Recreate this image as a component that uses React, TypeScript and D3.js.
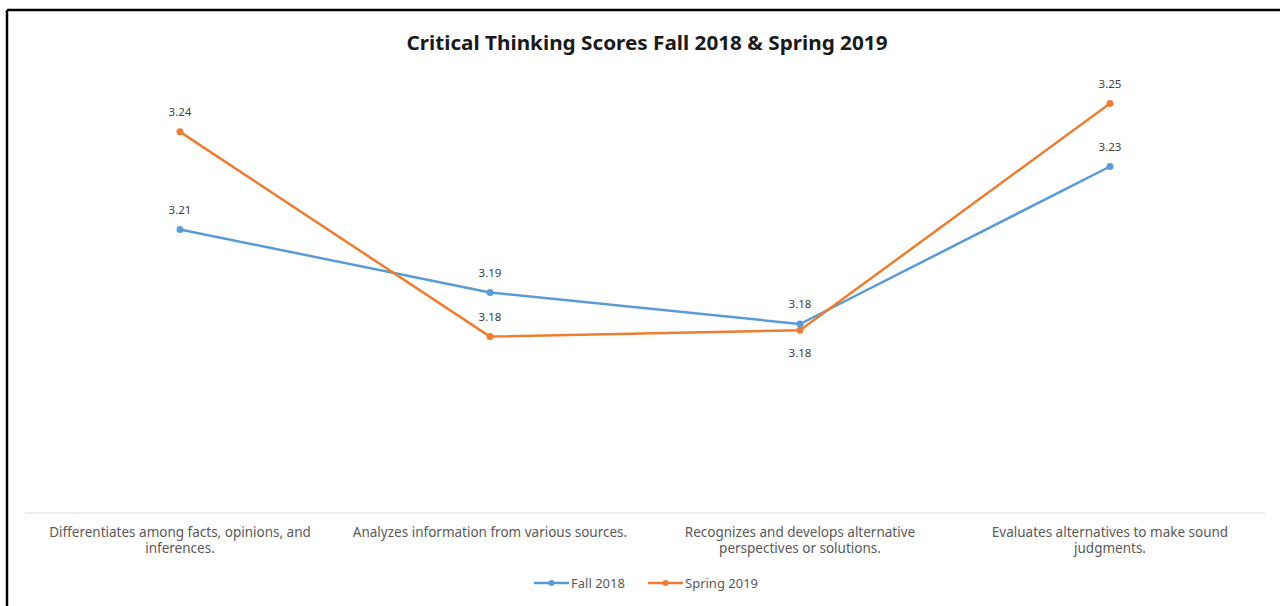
import React from "react";
import * as d3 from "d3";

const categories = [
  ["Differentiates among facts, opinions, and", "inferences."],
  ["Analyzes information from various sources."],
  ["Recognizes and develops alternative", "perspectives or solutions."],
  ["Evaluates alternatives to make sound", "judgments."],
];
const fall2018 = [3.21, 3.19, 3.18, 3.23];
const spring2019 = [3.241, 3.176, 3.178, 3.25];
const seriesNames = ["Fall 2018", "Spring 2019"];
const labelPos = [
  ["above", "above", "above", "above"],
  ["above", "above", "below", "above"],
];

const W = 1280;
const H = 606;
const colors = ["#5B9BD5", "#ED7D31"];
const font = "'Noto Sans', 'Open Sans', sans-serif";

export default function App() {
  const x = d3
    .scaleBand<number>()
    .domain(d3.range(categories.length))
    .range([25, 1265]);
  const y = d3.scaleLinear().domain([3.12, 3.26]).range([513, 72]);
  const line = d3
    .line<number>()
    .x((_, i) => (x(i) as number) + x.bandwidth() / 2)
    .y((d) => y(d));
  const series = [fall2018, spring2019];

  return (
    <svg
      width={W}
      height={H}
      style={{ position: "absolute", left: 0, top: 0, background: "#fff" }}
    >
      <rect x={0} y={0} width={W} height={H} fill="#fff" />
      {/* frame */}
      <line x1={7} y1={10} x2={W} y2={10} stroke="#000" strokeWidth={2.5} />
      <line x1={7} y1={10} x2={7} y2={H} stroke="#000" strokeWidth={2.5} />
      <text
        x={647}
        y={50}
        textAnchor="middle"
        fontFamily={font}
        fontWeight="bold"
        fontSize={20}
        fill="#1a1a1a"
        textLength={481}
        lengthAdjust="spacingAndGlyphs"
      >
        Critical Thinking Scores Fall 2018 &amp; Spring 2019
      </text>
      {/* axis line */}
      <line x1={25} x2={1265} y1={513} y2={513} stroke="#d9d9d9" strokeWidth={1} />
      {categories.map((lines, i) =>
        lines.map((t, j) => (
          <text
            key={i + "-" + j}
            x={(x(i) as number) + x.bandwidth() / 2}
            y={537 + j * 16}
            textAnchor="middle"
            fontFamily={font}
            fontSize={13.5}
            fill="#595959"
          >
            {t}
          </text>
        ))
      )}
      {series.map((vals, s) => (
        <g key={s}>
          <path
            d={line(vals) || ""}
            fill="none"
            stroke={colors[s]}
            strokeWidth={2.5}
            strokeLinejoin="round"
          />
          {vals.map((v, i) => {
            const cx = (x(i) as number) + x.bandwidth() / 2;
            const cy = y(v);
            const above = labelPos[s][i] === "above";
            return (
              <g key={i}>
                <circle cx={cx} cy={cy} r={3.5} fill={colors[s]} />
                <text
                  x={cx}
                  y={above ? cy - 16 : cy + 27}
                  textAnchor="middle"
                  fontFamily={font}
                  fontSize={11.5}
                  fill="#404040"
                >
                  {v.toFixed(2)}
                </text>
              </g>
            );
          })}
        </g>
      ))}
      {/* legend */}
      {seriesNames.map((name, s) => {
        const lx = s === 0 ? 534 : 648;
        return (
          <g key={name}>
            <line x1={lx} x2={lx + 35} y1={583} y2={583} stroke={colors[s]} strokeWidth={2.5} />
            <circle cx={lx + 17.5} cy={583} r={3} fill={colors[s]} />
            <text
              x={lx + 37}
              y={588}
              fontFamily={font}
              fontSize={13}
              fill="#595959"
            >
              {name}
            </text>
          </g>
        );
      })}
    </svg>
  );
}
